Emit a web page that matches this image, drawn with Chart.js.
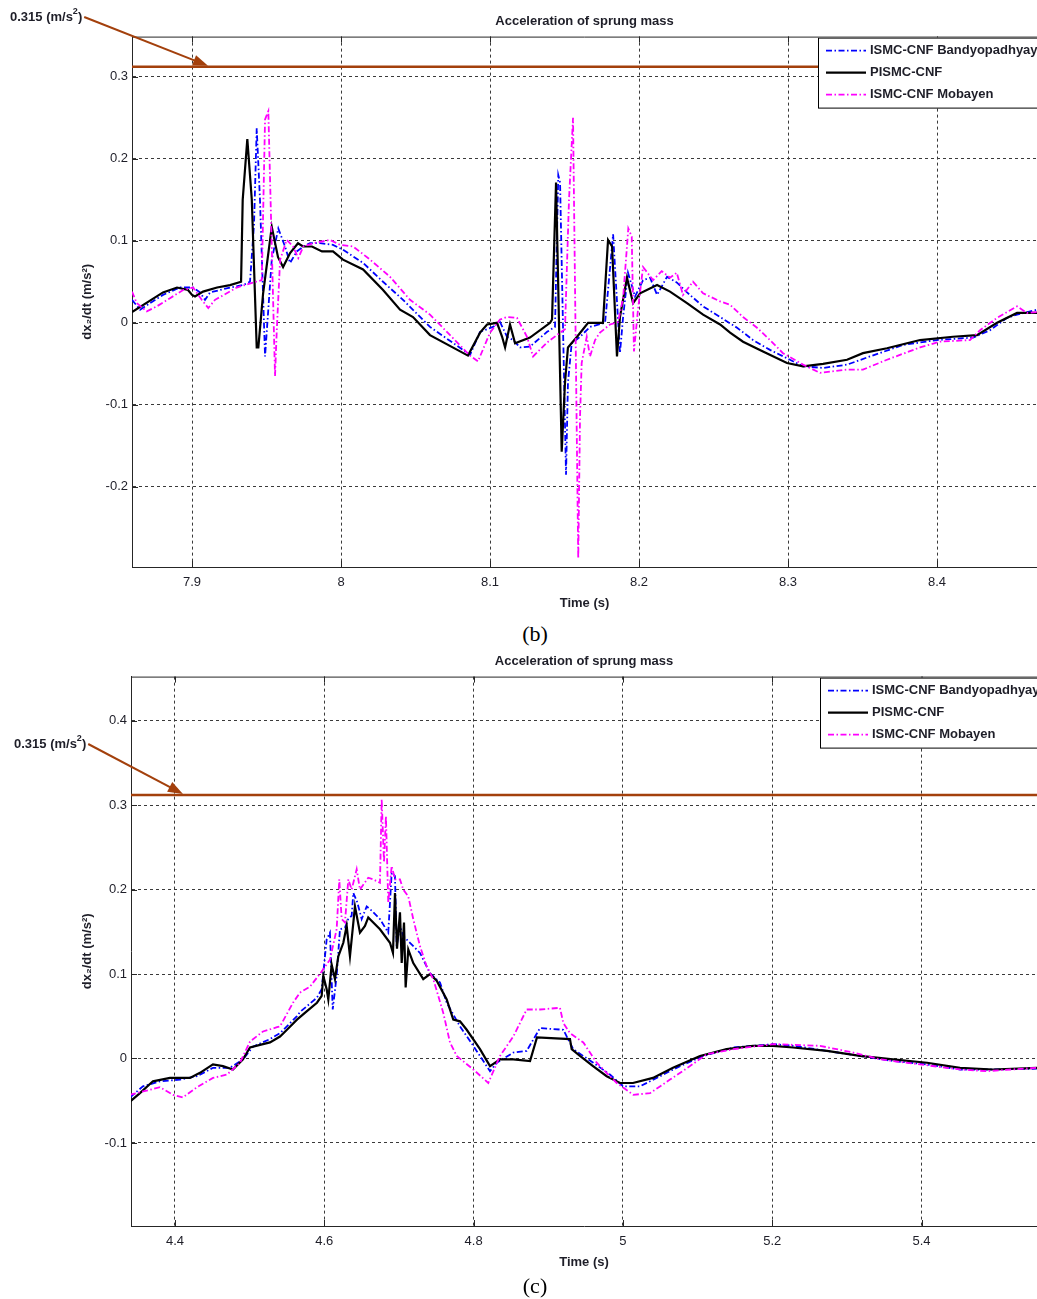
<!DOCTYPE html>
<html>
<head>
<meta charset="utf-8">
<title>Acceleration of sprung mass</title>
<script src="https://cdn.jsdelivr.net/npm/chart.js@4.4.0/dist/chart.umd.min.js"></script>
<style>
  html, body { margin: 0; padding: 0; background: #fff; }
  body { width: 1037px; height: 1299px; position: relative; overflow: hidden; }
  canvas { position: absolute; left: 0; }
  #chart-b { top: 0; }
  #chart-c { top: 640px; }
  .caption { position: absolute; left: 535px; transform: translateX(-50%); font: 22px 'Liberation Serif', 'Times New Roman', serif; color: #000; line-height: 26px; }
</style>
</head>
<body>
<canvas id="chart-b" width="1037" height="615"></canvas>
<div class="caption" style="top:621px">(b)</div>
<canvas id="chart-c" width="1037" height="634"></canvas>
<div class="caption" style="top:1273px">(c)</div>

<script>
// ---- data ----
// (b) window around 8 s
const X_TICKS_B = [7.9, 8, 8.1, 8.2, 8.3, 8.4];
const Y_TICKS_B = [-0.2, -0.1, 0, 0.1, 0.2, 0.3];

const TIME_B_BANDY = [7.8597, 7.8651, 7.8718, 7.8805, 7.8919, 7.9007, 7.9054, 7.9087, 7.9121, 7.9188, 7.9255, 7.9342, 7.9389, 7.9416, 7.9434, 7.9456, 7.9490, 7.9501, 7.9535, 7.9579, 7.9624, 7.9658, 7.9703, 7.9747, 7.9792, 7.9859, 7.9946, 8.0013, 8.0148, 8.0282, 8.0416, 8.0597, 8.0866, 8.0933, 8.1020, 8.1067, 8.1114, 8.1154, 8.1201, 8.1268, 8.1383, 8.1436, 8.1458, 8.1470, 8.1510, 8.1523, 8.1548, 8.1604, 8.1671, 8.1772, 8.1826, 8.1872, 8.1893, 8.1926, 8.1973, 8.2027, 8.2074, 8.2121, 8.2188, 8.2255, 8.2322, 8.2430, 8.2544, 8.2658, 8.2765, 8.2879, 8.3013, 8.3101, 8.3235, 8.3396, 8.3550, 8.3772, 8.4000, 8.4242, 8.4356, 8.4470, 8.4537, 8.4671];
const ACC_B_BANDY = [0.028, 0.016, 0.024, 0.034, 0.043, 0.043, 0.037, 0.028, 0.037, 0.040, 0.043, 0.046, 0.050, 0.120, 0.237, 0.150, -0.041, -0.012, 0.077, 0.115, 0.093, 0.073, 0.087, 0.093, 0.097, 0.097, 0.095, 0.089, 0.073, 0.050, 0.028, -0.005, -0.039, -0.011, -0.005, 0.001, -0.017, -0.021, -0.030, -0.029, -0.011, -0.005, 0.180, 0.171, -0.185, -0.073, -0.025, -0.017, -0.005, 0.000, 0.108, -0.037, 0.007, 0.061, 0.032, 0.052, 0.055, 0.034, 0.056, 0.049, 0.037, 0.020, 0.007, -0.006, -0.021, -0.033, -0.045, -0.053, -0.055, -0.051, -0.041, -0.027, -0.021, -0.018, -0.009, 0.006, 0.010, 0.016];

const TIME_B_PISMC = [7.8597, 7.8805, 7.8899, 7.8973, 7.9000, 7.9020, 7.9074, 7.9168, 7.9255, 7.9329, 7.9340, 7.9371, 7.9401, 7.9434, 7.9445, 7.9477, 7.9535, 7.9577, 7.9611, 7.9658, 7.9711, 7.9745, 7.9805, 7.9872, 7.9946, 8.0013, 8.0148, 8.0282, 8.0396, 8.0483, 8.0597, 8.0852, 8.0933, 8.0980, 8.1047, 8.1081, 8.1101, 8.1134, 8.1168, 8.1268, 8.1403, 8.1416, 8.1443, 8.1481, 8.1503, 8.1523, 8.1584, 8.1658, 8.1758, 8.1792, 8.1819, 8.1852, 8.1872, 8.1919, 8.1960, 8.2007, 8.2121, 8.2208, 8.2322, 8.2430, 8.2544, 8.2611, 8.2698, 8.2832, 8.2993, 8.3101, 8.3235, 8.3396, 8.3503, 8.3664, 8.3886, 8.4107, 8.4268, 8.4403, 8.4537, 8.4671];
const ACC_B_PISMC = [0.013, 0.037, 0.043, 0.040, 0.034, 0.032, 0.038, 0.043, 0.046, 0.050, 0.150, 0.224, 0.150, -0.030, -0.030, 0.036, 0.117, 0.080, 0.068, 0.085, 0.097, 0.093, 0.093, 0.087, 0.087, 0.077, 0.065, 0.040, 0.016, 0.007, -0.015, -0.040, -0.012, -0.002, 0.000, -0.017, -0.030, -0.002, -0.025, -0.018, 0.000, 0.004, 0.171, -0.157, -0.073, -0.030, -0.017, 0.000, 0.000, 0.101, 0.093, -0.041, 0.007, 0.055, 0.024, 0.036, 0.046, 0.038, 0.024, 0.010, -0.002, -0.012, -0.023, -0.035, -0.049, -0.053, -0.050, -0.045, -0.037, -0.031, -0.021, -0.017, -0.015, 0.000, 0.012, 0.012];

const TIME_B_MOBAYEN = [7.8597, 7.8629, 7.8696, 7.8763, 7.8852, 7.8940, 7.9007, 7.9065, 7.9109, 7.9154, 7.9233, 7.9300, 7.9409, 7.9468, 7.9490, 7.9512, 7.9557, 7.9568, 7.9591, 7.9636, 7.9678, 7.9713, 7.9747, 7.9814, 7.9926, 7.9993, 8.0081, 8.0195, 8.0329, 8.0463, 8.0597, 8.0866, 8.0919, 8.1000, 8.1067, 8.1114, 8.1181, 8.1248, 8.1289, 8.1383, 8.1470, 8.1503, 8.1530, 8.1557, 8.1592, 8.1604, 8.1615, 8.1649, 8.1671, 8.1705, 8.1738, 8.1805, 8.1859, 8.1893, 8.1928, 8.1951, 8.1966, 8.1993, 8.2027, 8.2094, 8.2152, 8.2208, 8.2253, 8.2295, 8.2362, 8.2430, 8.2544, 8.2611, 8.2698, 8.2792, 8.2879, 8.2966, 8.3101, 8.3215, 8.3396, 8.3503, 8.3664, 8.3886, 8.4020, 8.4221, 8.4289, 8.4403, 8.4537, 8.4604, 8.4671];
const ACC_B_MOBAYEN = [0.038, 0.024, 0.014, 0.020, 0.030, 0.040, 0.043, 0.028, 0.018, 0.028, 0.036, 0.043, 0.049, 0.052, 0.248, 0.258, -0.065, -0.012, 0.077, 0.101, 0.093, 0.079, 0.093, 0.097, 0.101, 0.095, 0.093, 0.077, 0.056, 0.028, 0.010, -0.040, -0.047, -0.012, 0.004, 0.007, 0.006, -0.017, -0.041, -0.024, -0.012, -0.008, 0.150, 0.250, -0.287, -0.114, -0.049, -0.017, -0.041, -0.021, -0.012, -0.002, 0.001, 0.030, 0.115, 0.105, -0.035, 0.016, 0.068, 0.052, 0.063, 0.055, 0.061, 0.034, 0.050, 0.036, 0.026, 0.022, 0.007, -0.006, -0.021, -0.037, -0.051, -0.061, -0.057, -0.057, -0.045, -0.030, -0.023, -0.021, -0.009, 0.006, 0.020, 0.012, 0.013];

// (c) window around 4.7 s
const X_TICKS_C = [4.4, 4.6, 4.8, 5, 5.2, 5.4];
const Y_TICKS_C = [-0.1, 0, 0.1, 0.2, 0.3, 0.4];

const TIME_C_BANDY = [4.3397, 4.3571, 4.3799, 4.4067, 4.4295, 4.4509, 4.4737, 4.4911, 4.5045, 4.5273, 4.5407, 4.5634, 4.5674, 4.5902, 4.5965, 4.6032, 4.6076, 4.6113, 4.6166, 4.6210, 4.6277, 4.6322, 4.6367, 4.6389, 4.6442, 4.6501, 4.6568, 4.6635, 4.6746, 4.6857, 4.6903, 4.6947, 4.6970, 4.7014, 4.7058, 4.7148, 4.7282, 4.7416, 4.7550, 4.7640, 4.7818, 4.7996, 4.8220, 4.8310, 4.8532, 4.8711, 4.8890, 4.9202, 4.9335, 4.9603, 4.9826, 5.0005, 5.0229, 5.0497, 5.0765, 5.1077, 5.1479, 5.2015, 5.2283, 5.2730, 5.3176, 5.3622, 5.4069, 5.4516, 5.4962, 5.5547];
const ACC_C_BANDY = [-0.046, -0.033, -0.027, -0.025, -0.021, -0.011, -0.011, -0.001, 0.014, 0.023, 0.030, 0.050, 0.055, 0.072, 0.082, 0.141, 0.149, 0.058, 0.098, 0.153, 0.155, 0.165, 0.169, 0.196, 0.185, 0.165, 0.180, 0.175, 0.165, 0.149, 0.220, 0.216, 0.133, 0.157, 0.145, 0.137, 0.125, 0.101, 0.090, 0.066, 0.038, 0.015, -0.015, -0.005, 0.007, 0.009, 0.036, 0.034, 0.011, -0.005, -0.019, -0.033, -0.033, -0.021, -0.009, 0.003, 0.013, 0.017, 0.015, 0.009, 0.003, -0.003, -0.007, -0.013, -0.013, -0.012];

const TIME_C_PISMC = [4.3397, 4.3531, 4.3705, 4.3933, 4.4201, 4.4335, 4.4509, 4.4643, 4.4777, 4.4911, 4.5005, 4.5179, 4.5273, 4.5407, 4.5500, 4.5634, 4.5768, 4.5902, 4.5965, 4.5987, 4.6032, 4.6054, 4.6099, 4.6143, 4.6188, 4.6255, 4.6300, 4.6344, 4.6411, 4.6478, 4.6545, 4.6589, 4.6656, 4.6746, 4.6880, 4.6920, 4.6947, 4.6974, 4.7014, 4.7037, 4.7068, 4.7090, 4.7125, 4.7192, 4.7326, 4.7416, 4.7506, 4.7640, 4.7728, 4.7818, 4.7908, 4.8086, 4.8220, 4.8354, 4.8532, 4.8756, 4.8849, 4.9291, 4.9314, 4.9425, 4.9600, 4.9783, 4.9961, 5.0135, 5.0403, 5.0671, 5.1033, 5.1390, 5.1743, 5.2011, 5.2279, 5.2734, 5.3176, 5.3618, 5.4074, 5.4516, 5.4958, 5.5547];
const ACC_C_PISMC = [-0.051, -0.041, -0.027, -0.023, -0.023, -0.017, -0.007, -0.009, -0.013, -0.001, 0.013, 0.017, 0.019, 0.026, 0.034, 0.046, 0.056, 0.066, 0.074, 0.098, 0.082, 0.070, 0.111, 0.094, 0.121, 0.137, 0.157, 0.121, 0.180, 0.149, 0.157, 0.167, 0.161, 0.153, 0.137, 0.125, 0.196, 0.130, 0.173, 0.113, 0.161, 0.084, 0.129, 0.113, 0.094, 0.100, 0.092, 0.070, 0.046, 0.044, 0.034, 0.011, -0.009, -0.001, -0.001, -0.003, 0.025, 0.023, 0.011, 0.003, -0.009, -0.021, -0.029, -0.029, -0.023, -0.011, 0.003, 0.011, 0.015, 0.015, 0.013, 0.009, 0.003, -0.001, -0.005, -0.011, -0.013, -0.011];

const TIME_C_MOBAYEN = [4.3397, 4.3531, 4.3799, 4.3973, 4.4107, 4.4295, 4.4509, 4.4697, 4.4871, 4.5005, 4.5179, 4.5366, 4.5407, 4.5581, 4.5674, 4.5808, 4.5965, 4.6076, 4.6166, 4.6201, 4.6233, 4.6277, 4.6322, 4.6367, 4.6434, 4.6478, 4.6589, 4.6656, 4.6746, 4.6769, 4.6800, 4.6826, 4.6857, 4.6903, 4.6947, 4.7014, 4.7058, 4.7125, 4.7192, 4.7282, 4.7372, 4.7460, 4.7594, 4.7684, 4.7774, 4.7996, 4.8197, 4.8354, 4.8532, 4.8711, 4.8890, 4.9157, 4.9202, 4.9291, 4.9470, 4.9649, 4.9917, 5.0139, 5.0363, 5.0631, 5.0899, 5.1122, 5.1479, 5.2015, 5.2640, 5.3086, 5.3444, 5.3980, 5.4516, 5.4873, 5.5547];
const ACC_C_MOBAYEN = [-0.043, -0.040, -0.034, -0.043, -0.046, -0.034, -0.023, -0.019, -0.005, 0.020, 0.032, 0.037, 0.038, 0.066, 0.078, 0.085, 0.103, 0.117, 0.153, 0.212, 0.165, 0.161, 0.212, 0.200, 0.224, 0.200, 0.214, 0.212, 0.208, 0.307, 0.232, 0.287, 0.184, 0.228, 0.212, 0.212, 0.200, 0.192, 0.165, 0.133, 0.109, 0.094, 0.054, 0.019, 0.003, -0.013, -0.029, 0.003, 0.026, 0.058, 0.058, 0.060, 0.042, 0.030, 0.019, -0.005, -0.029, -0.043, -0.041, -0.025, -0.009, 0.005, 0.011, 0.017, 0.015, 0.007, -0.001, -0.007, -0.013, -0.015, -0.011];

// comfort bound drawn as the brown line (label reads 0.315)
const LIMIT_LEVEL = 0.312;
const LIMIT_LABEL = '0.315';

// ---- styling ----
const FONT = "'Liberation Sans', Arial, sans-serif";
const INK = '#1e1e28';
const GRID = '#3a3a3a';
const AXIS = '#262626';
const BROWN = '#a3400c';

const fmt = v => String(Number(v.toFixed(2)));
const series = (t, a) => t.map((x, i) => ({ x, y: a[i] }));

// MATLAB-like extras: box top edge, inner ticks, framed legend, arrow note
const matlabDecor = {
  id: 'matlabDecor',
  afterDraw(chart, args, opts) {
    const { ctx, chartArea: a, scales: { x, y } } = chart;
    ctx.save();

    ctx.strokeStyle = AXIS;
    ctx.lineWidth = 1;
    ctx.setLineDash([]);
    ctx.beginPath();
    ctx.moveTo(a.left, a.top + 0.5); ctx.lineTo(a.right, a.top + 0.5);
    x.ticks.forEach(t => {
      const px = Math.round(x.getPixelForValue(t.value)) + 0.5;
      ctx.moveTo(px, a.bottom); ctx.lineTo(px, a.bottom - 6);
      ctx.moveTo(px, a.top); ctx.lineTo(px, a.top + 6);
    });
    y.ticks.forEach(t => {
      const py = Math.round(y.getPixelForValue(t.value)) + 0.5;
      ctx.moveTo(a.left, py); ctx.lineTo(a.left + 6, py);
    });
    ctx.stroke();

    // legend box
    const lx = opts.legendLeft, ly = a.top + 1, lh = 70;
    ctx.fillStyle = '#fff';
    ctx.fillRect(lx, ly, a.right - lx + 2, lh);
    ctx.strokeStyle = '#000';
    ctx.strokeRect(lx + 0.5, ly + 0.5, a.right - lx + 2, lh);
    ctx.font = `bold 13px ${FONT}`;
    ctx.textBaseline = 'middle';
    ctx.textAlign = 'left';
    chart.data.datasets.slice(0, 3).forEach((ds, i) => {
      const ry = ly + 13 + i * 22;
      ctx.strokeStyle = ds.borderColor;
      ctx.lineWidth = ds.borderWidth;
      ctx.setLineDash(ds.borderDash || []);
      ctx.beginPath();
      ctx.moveTo(lx + 8, ry); ctx.lineTo(lx + 48, ry);
      ctx.stroke();
      ctx.fillStyle = INK;
      ctx.fillText(ds.label, lx + 52, ry);
    });
    ctx.setLineDash([]);

    // "0.315 (m/s²)" note with arrow onto the bound line
    const n = opts.note;
    let cx = n.x;
    ctx.fillStyle = INK;
    ctx.font = `bold 13px ${FONT}`;
    const head = LIMIT_LABEL + ' (m/s';
    ctx.fillText(head, cx, n.y); cx += ctx.measureText(head).width;
    ctx.font = `bold 9px ${FONT}`;
    ctx.fillText('2', cx, n.y - 5); cx += ctx.measureText('2').width;
    ctx.font = `bold 13px ${FONT}`;
    ctx.fillText(')', cx, n.y); cx += ctx.measureText(')').width;

    const tx = x.getPixelForValue(opts.tipX), ty = y.getPixelForValue(LIMIT_LEVEL) - 1;
    const sx = cx + 2, sy = n.y;
    const ang = Math.atan2(ty - sy, tx - sx);
    const len = 15, half = 5.5;
    ctx.strokeStyle = BROWN;
    ctx.fillStyle = BROWN;
    ctx.lineWidth = 2;
    ctx.beginPath();
    ctx.moveTo(sx, sy);
    ctx.lineTo(tx - Math.cos(ang) * len * 0.8, ty - Math.sin(ang) * len * 0.8);
    ctx.stroke();
    ctx.beginPath();
    ctx.moveTo(tx, ty);
    ctx.lineTo(tx - Math.cos(ang) * len - Math.sin(ang) * half, ty - Math.sin(ang) * len + Math.cos(ang) * half);
    ctx.lineTo(tx - Math.cos(ang) * len + Math.sin(ang) * half, ty - Math.sin(ang) * len - Math.cos(ang) * half);
    ctx.closePath();
    ctx.fill();

    ctx.restore();
  }
};

function buildChart(canvasId, s) {
  const tickFont = { family: FONT, size: 13 };
  const titleFont = { family: FONT, size: 13, weight: 'bold' };
  return new Chart(document.getElementById(canvasId), {
    type: 'line',
    data: {
      datasets: [
        { label: 'ISMC-CNF Bandyopadhyay', data: series(s.tBandy, s.aBandy), borderColor: '#0000ff', borderWidth: 1.8, borderDash: [6, 2.5, 1.5, 2.5], order: 3 },
        { label: 'PISMC-CNF', data: series(s.tPismc, s.aPismc), borderColor: '#000000', borderWidth: 2.2, order: 2 },
        { label: 'ISMC-CNF Mobayen', data: series(s.tMob, s.aMob), borderColor: '#ff00ff', borderWidth: 1.8, borderDash: [6, 2.5, 1.5, 2.5], order: 1 },
        { label: 'bound', data: [{ x: s.xMin, y: LIMIT_LEVEL }, { x: s.xMax, y: LIMIT_LEVEL }], borderColor: BROWN, borderWidth: 2.5, order: 0 }
      ]
    },
    options: {
      responsive: false,
      animation: false,
      events: [],
      layout: { padding: 0 },
      elements: { point: { radius: 0 }, line: { tension: 0, fill: false } },
      plugins: {
        legend: { display: false },
        tooltip: { enabled: false },
        title: { display: true, text: 'Acceleration of sprung mass', fullSize: false, color: INK, font: titleFont, padding: { top: 14, bottom: 7 } },
        matlabDecor: { legendLeft: s.legendLeft, note: s.note, tipX: s.tipX }
      },
      scales: {
        x: {
          type: 'linear', min: s.xMin, max: s.xMax,
          afterBuildTicks: ax => { ax.ticks = s.xTicks.map(value => ({ value })); },
          afterFit: ax => { ax.height = 48; },
          grid: { color: GRID, lineWidth: 1, drawTicks: false },
          border: { color: AXIS, width: 1, dash: [3, 3] },
          ticks: { color: INK, font: tickFont, padding: 8, maxRotation: 0, autoSkip: false, callback: v => fmt(v) },
          title: { display: true, text: 'Time (s)', color: INK, font: titleFont, padding: { top: 0, bottom: 4 } }
        },
        y: {
          type: 'linear', min: s.yMin, max: s.yMax,
          afterBuildTicks: ax => { ax.ticks = s.yTicks.map(value => ({ value })); },
          afterFit: ax => { ax.width = s.yAxisWidth; },
          grid: { color: GRID, lineWidth: 1, drawTicks: false },
          border: { color: AXIS, width: 1, dash: [3, 3] },
          ticks: { color: INK, font: tickFont, padding: 4, autoSkip: false, callback: v => fmt(v) },
          title: { display: true, text: 'dx₂/dt (m/s²)', color: INK, font: titleFont, padding: { top: 80, bottom: 0 } }
        }
      }
    },
    plugins: [matlabDecor]
  });
}

buildChart('chart-b', {
  tBandy: TIME_B_BANDY, aBandy: ACC_B_BANDY,
  tPismc: TIME_B_PISMC, aPismc: ACC_B_PISMC,
  tMob: TIME_B_MOBAYEN, aMob: ACC_B_MOBAYEN,
  xMin: 7.8597, xMax: 8.4671, yMin: -0.2976, yMax: 0.3488,
  xTicks: X_TICKS_B, yTicks: Y_TICKS_B,
  yAxisWidth: 132, legendLeft: 818,
  note: { x: 10, y: 17 }, tipX: 7.9107
});

buildChart('chart-c', {
  tBandy: TIME_C_BANDY, aBandy: ACC_C_BANDY,
  tPismc: TIME_C_PISMC, aPismc: ACC_C_PISMC,
  tMob: TIME_C_MOBAYEN, aMob: ACC_C_MOBAYEN,
  xMin: 4.3411, xMax: 5.5547, yMin: -0.1983, yMax: 0.4521,
  xTicks: X_TICKS_C, yTicks: Y_TICKS_C,
  yAxisWidth: 131, legendLeft: 820,
  note: { x: 14, y: 104 }, tipX: 4.4107
});
</script>
</body>
</html>
